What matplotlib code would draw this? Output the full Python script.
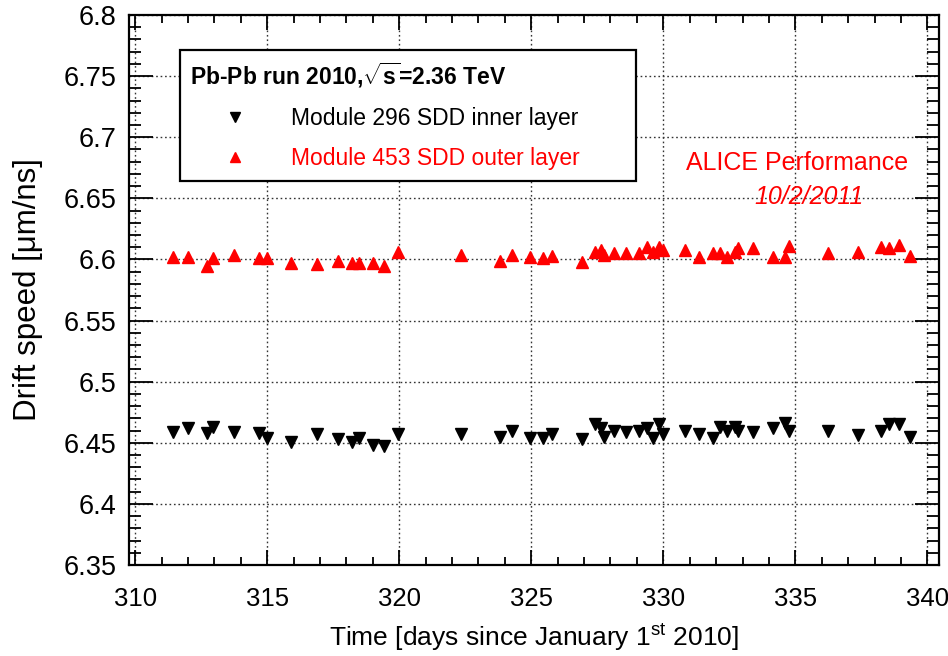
import matplotlib
matplotlib.use("Agg")
import matplotlib.pyplot as plt
from matplotlib.ticker import MultipleLocator, FixedLocator

plt.rcParams['font.family'] = ['Liberation Sans', 'DejaVu Sans']
plt.rcParams['mathtext.fontset'] = 'custom'
plt.rcParams['mathtext.rm'] = 'Liberation Sans'
plt.rcParams['mathtext.bf'] = 'Liberation Sans:bold'
plt.rcParams['mathtext.it'] = 'Liberation Sans:italic'

# ---- data ----
outer_days = [311.44, 312.0, 312.73, 312.94, 313.73, 314.71, 315.01, 315.9, 316.9,
              317.68, 318.2, 318.47, 319.0, 319.44, 319.94, 322.34, 323.82, 324.29,
              324.97, 325.45, 325.8, 326.93, 327.43, 327.64, 327.77, 328.15, 328.58,
              329.09, 329.4, 329.62, 329.84, 330.0, 330.84, 331.34, 331.9, 332.15,
              332.43, 332.72, 332.82, 333.41, 334.16, 334.6, 334.76, 336.23, 337.38,
              338.26, 338.55, 338.92, 339.36]
outer_speed = [6.602, 6.602, 6.595, 6.601, 6.604, 6.601, 6.601, 6.597, 6.596,
               6.599, 6.597, 6.597, 6.597, 6.595, 6.606, 6.604, 6.599, 6.604,
               6.602, 6.601, 6.603, 6.598, 6.606, 6.608, 6.604, 6.605, 6.605,
               6.605, 6.610, 6.606, 6.610, 6.608, 6.608, 6.602, 6.605, 6.605,
               6.602, 6.606, 6.609, 6.609, 6.602, 6.602, 6.611, 6.605, 6.606,
               6.610, 6.609, 6.612, 6.603]

inner_days = [311.44, 311.99, 312.73, 312.94, 313.73, 314.71, 315.01, 315.9, 316.9,
              317.68, 318.2, 318.47, 319.0, 319.44, 319.94, 322.34, 323.82, 324.29,
              324.97, 325.45, 325.8, 326.93, 327.43, 327.64, 327.77, 328.15, 328.58,
              329.09, 329.4, 329.62, 329.84, 330.0, 330.84, 331.34, 331.9, 332.15,
              332.43, 332.72, 332.82, 333.41, 334.16, 334.6, 334.76, 336.23, 337.38,
              338.26, 338.55, 338.92, 339.36]
inner_speed = [6.459, 6.462, 6.458, 6.463, 6.459, 6.458, 6.454, 6.451, 6.457,
               6.453, 6.451, 6.454, 6.448, 6.447, 6.457, 6.457, 6.455, 6.460,
               6.454, 6.454, 6.457, 6.453, 6.465, 6.462, 6.455, 6.460, 6.459,
               6.460, 6.462, 6.454, 6.465, 6.457, 6.460, 6.457, 6.454, 6.463,
               6.460, 6.463, 6.460, 6.459, 6.462, 6.466, 6.460, 6.460, 6.456,
               6.460, 6.465, 6.465, 6.455]

x_ticks = [310, 315, 320, 325, 330, 335, 340]
x_tick_labels = ['310', '315', '320', '325', '330', '335', '340']
y_ticks = [6.35, 6.4, 6.45, 6.5, 6.55, 6.6, 6.65, 6.7, 6.75, 6.8]
y_tick_labels = ['6.35', '6.4', '6.45', '6.5', '6.55', '6.6', '6.65', '6.7', '6.75', '6.8']

label_inner = 'Module 296 SDD inner layer'
label_outer = 'Module 453 SDD outer layer'
legend_title = r'Pb-Pb run 2010,$\sqrt{\mathbf{s}}$=2.36 TeV'
x_label = r'Time [days since January 1$^{\mathrm{st}}$ 2010]'
y_label = 'Drift speed [μm/ns]'

# ---- figure ----
fig = plt.figure(figsize=(9.48, 6.56), dpi=100)
ax = fig.add_axes([0.1361, 0.1387, 0.8544, 0.8384])

h_in, = ax.plot(inner_days, inner_speed, linestyle='none', marker='v',
                color='black', markersize=8, zorder=3)
h_out, = ax.plot(outer_days, outer_speed, linestyle='none', marker='^',
                 color='red', markersize=8, zorder=3)

ax.set_xlim(309.77, 340.44)
ax.set_ylim(6.35, 6.8)
ax.xaxis.set_major_locator(FixedLocator(x_ticks))
ax.set_xticklabels(x_tick_labels)
ax.xaxis.set_minor_locator(MultipleLocator(1))
ax.yaxis.set_major_locator(FixedLocator(y_ticks))
ax.set_yticklabels(y_tick_labels)
ax.yaxis.set_minor_locator(MultipleLocator(0.01))

ax.grid(True, which='major', linestyle=(0, (1.2, 2.0)), color='#333333',
        linewidth=1.0, zorder=1)

ax.tick_params(which='both', direction='in', top=True, right=True,
               width=1.3, colors='black')
ax.tick_params(axis='y', which='major', length=17, pad=9, labelsize=19.5)
ax.tick_params(axis='y', which='minor', length=8.5)
ax.tick_params(axis='x', which='major', length=11, pad=16, labelsize=18.5)
ax.tick_params(axis='x', which='minor', length=6)
for s in ax.spines.values():
    s.set_linewidth(1.6)

ax.set_xlabel(x_label, fontsize=19, va='center')
ax.xaxis.set_label_coords(0.5, -0.131)
ax.set_ylabel(y_label, fontsize=22.5, va='center')
ax.yaxis.set_label_coords(-0.125, 0.5)

leg = ax.legend([h_in, h_out], [label_inner, label_outer],
                title=legend_title,
                title_fontproperties={'weight': 'bold', 'size': 16.5},
                fontsize=16.5, loc='upper left',
                bbox_to_anchor=(0.063, 0.936 - 0.251, 0.563, 0.251),
                mode='expand', alignment='left',
                frameon=True, fancybox=False, edgecolor='black',
                framealpha=1, borderpad=0.45, handlelength=3.9,
                handletextpad=0.5, labelspacing=0.75, borderaxespad=0,
                markerscale=0.9)
leg.get_frame().set_linewidth(1.6)
leg.get_texts()[1].set_color('red')
leg.set_zorder(5)

ax.text(0.825, 0.731, 'ALICE Performance', transform=ax.transAxes,
        color='red', fontsize=18, ha='center', va='center')
ax.text(0.84, 0.669, '10/2/2011', transform=ax.transAxes,
        color='red', fontsize=18, style='italic', ha='center', va='center')

fig.savefig('out.png', dpi=100)
